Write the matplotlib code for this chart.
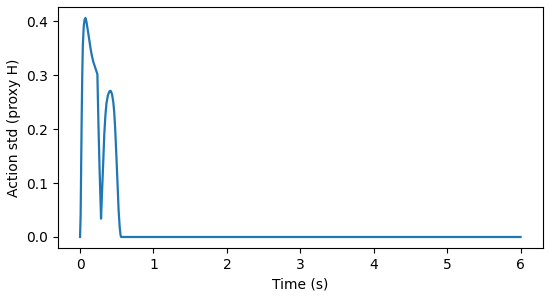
import matplotlib
matplotlib.use("Agg")
import matplotlib.pyplot as plt
import numpy as np

# values
time_s = [0.0, 0.008, 0.015, 0.022, 0.030, 0.038, 0.050, 0.062, 0.074,
          0.086, 0.100, 0.123, 0.140, 0.158, 0.180, 0.204, 0.236, 0.249,
          0.265, 0.286, 0.300, 0.317, 0.330, 0.345, 0.360, 0.380, 0.400,
          0.417, 0.435, 0.453, 0.465, 0.477, 0.495, 0.512, 0.525, 0.540,
          0.552, 0.560, 6.0]
action_std = [0.0, 0.041, 0.130, 0.218, 0.300, 0.355, 0.390, 0.403, 0.406,
              0.400, 0.388, 0.368, 0.352, 0.338, 0.325, 0.315, 0.302, 0.218,
              0.130, 0.034, 0.085, 0.143, 0.190, 0.225, 0.248, 0.263, 0.270,
              0.271, 0.265, 0.250, 0.232, 0.205, 0.150, 0.094, 0.050, 0.018,
              0.003, 0.0, 0.0]

fig = plt.figure(figsize=(5.5, 2.98), dpi=100)
ax = fig.add_axes([0.1055, 0.168, 0.881, 0.8085])
ax.plot(time_s, action_std, color='#1f77b4', lw=1.6)
ax.set_xlabel('Time (s)', fontsize=10)
ax.set_ylabel('Action std (proxy H)', fontsize=10)
ax.set_xticks(np.arange(0, 7, 1))
ax.set_yticks([0.0, 0.1, 0.2, 0.3, 0.4])
ax.tick_params(labelsize=10)

fig.savefig('out.png', dpi=100)
